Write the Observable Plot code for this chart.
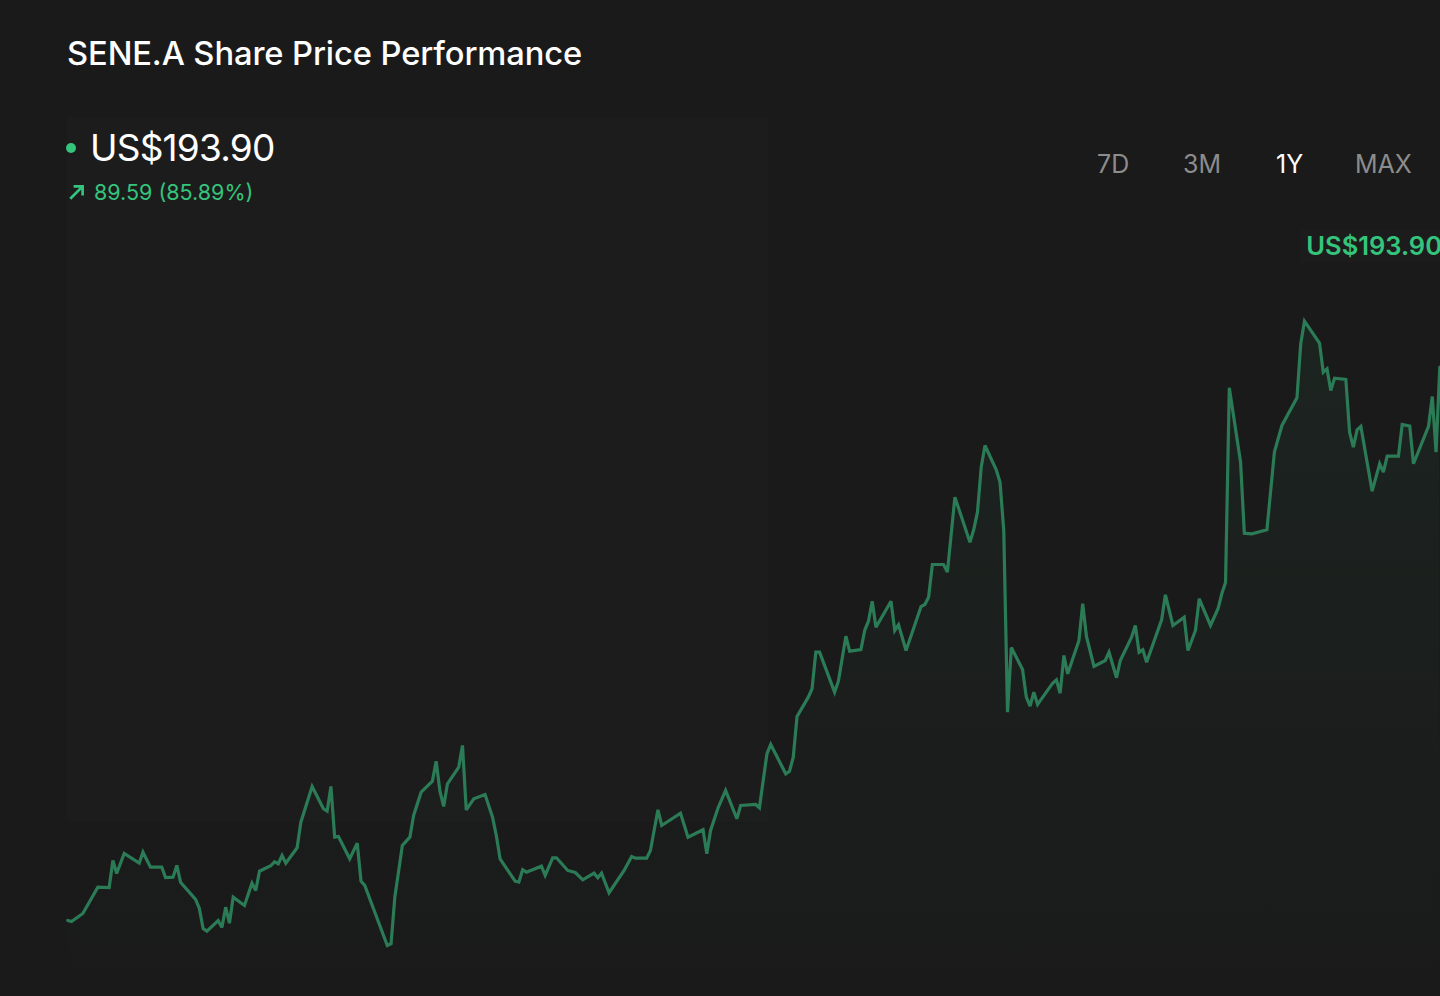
<!DOCTYPE html>
<html>
<head>
<meta charset="utf-8">
<script src="https://cdn.jsdelivr.net/npm/d3@7"></script>
<script src="https://cdn.jsdelivr.net/npm/@observablehq/plot@0.6"></script>
<style>
  html, body { margin: 0; padding: 0; background: #1a1a1a; }
  body { width: 1440px; height: 996px; position: relative; overflow: hidden; font-family: Inter, "Noto Sans", sans-serif; }
  #panel { position: absolute; left: 67px; top: 117px; width: 701px; height: 705px; background: #1c1c1c; }
  #title { position: absolute; left: 67px; top: 33px; font-size: 32.7px; font-weight: 500; color: #ffffff; letter-spacing: -0.1px; white-space: nowrap; }
  #price { position: absolute; left: 66px; top: 125px; color: #ffffff; font-size: 37px; font-weight: 400; letter-spacing: -0.8px; white-space: nowrap; display: flex; align-items: center; }
  #price .dot { width: 10px; height: 10px; border-radius: 50%; background: #35c47c; margin-right: 14px; }
  #change { position: absolute; left: 68px; top: 179px; color: #35c47c; font-size: 21.5px; white-space: nowrap; display: flex; align-items: center; }
  #change svg { margin-right: 8px; }
  #tabs { position: absolute; top: 149px; left: 0; width: 1440px; height: 34px; }
  #tabs span { position: absolute; font-size: 25px; color: #8c8c8c; white-space: nowrap; }
  #tabs span.active { color: #ffffff; }
  #chart { position: absolute; left: 0; top: 220px; }
  #lastlabel { position: absolute; right: -2px; top: 229px; padding: 0 0 0 6px; background: #1c1c1c; color: #35c47c; font-size: 25.5px; font-weight: 600; white-space: nowrap; line-height: 34px; }
</style>
</head>
<body>
<div id="panel"></div>
<div id="title"></div>
<div id="price"><span class="dot"></span><span id="priceText"></span></div>
<div id="change"><svg width="18" height="18" viewBox="0 0 16 16"><path d="M2 14 L13 3 M5 3 H13 V11" fill="none" stroke="#35c47c" stroke-width="2.4"/></svg><span id="changeText"></span></div>
<div id="tabs"></div>
<div id="chart"></div>
<div id="lastlabel"></div>
<script>
// ---- data ----
const ticker = "SENE.A";
const lastPrice = 193.90;
const priceChange = 89.59;
const priceChangePct = 85.89;
const ranges = ["7D", "3M", "1Y", "MAX"];
const activeRange = "1Y";

// day offset within the 1-year window
const days = [0,1,4,8,11,12,13,15,19,20,22,25,26,28,29,30,34,35,36,37,40,41,42,43,44,47,49,50,51,54,55,56,57,58,61,62,65,68,69,70,71,72,75,77,78,79,82,85,86,87,89,91,92,94,97,98,99,100,101,104,105,106,108,111,113,114,115,119,120,121,122,126,127,129,130,133,135,137,140,141,142,144,148,150,151,154,155,157,158,163,165,169,170,171,173,175,178,179,183,184,185,186,187,191,192,193,194,197,198,199,200,204,205,207,208,211,212,213,214,215,219,220,221,223,227,228,229,230,233,234,236,240,241,242,243,244,247,248,249,250,251,254,255,256,257,258,262,263,264,265,266,269,270,271,273,276,277,279,280,283,284,285,286,287,291,292,294,297,298,300,301,304,306,307,308,309,312,313,315,319,321,323,327,328,329,333,334,335,336,337,340,341,342,343,344,347,349,350,351,354,355,357,358,362,363,364,365];
// share price, US$
const prices = [104.31,104.15,105.44,109.70,109.65,114.02,111.92,115.16,113.59,115.37,112.94,112.94,111.27,111.32,113.22,110.51,107.71,106.25,103.01,102.58,104.31,103.18,106.46,103.87,108.08,106.74,110.35,109.17,112.29,113.17,113.81,113.49,114.83,113.59,116.08,120.23,126.01,122.40,122.01,126.01,117.80,117.91,114.30,116.83,110.67,109.98,105.12,100.26,100.54,108.08,116.45,117.80,121.31,125.08,126.87,130.10,125.25,122.77,126.44,129.13,132.65,122.23,124.02,124.71,121.04,118.07,114.30,110.67,110.51,112.52,112.13,113.10,111.60,114.46,114.46,112.41,112.08,110.90,111.97,111.22,111.97,108.80,112.41,114.67,114.40,114.40,115.64,122.23,119.69,121.68,117.80,119.00,115.11,118.88,122.56,125.36,120.78,122.93,123.09,122.56,126.98,131.30,132.81,128.06,128.48,130.75,137.34,140.47,141.83,147.75,147.75,141.28,143.06,150.34,147.91,148.19,151.27,152.77,156.01,151.80,156.01,151.27,152.19,148.03,155.15,155.48,156.66,161.95,161.95,160.71,172.85,165.56,167.57,170.42,177.71,181.22,177.29,175.28,167.46,138.04,148.51,144.95,140.47,139.01,141.28,139.28,142.73,143.28,141.11,147.22,144.25,149.65,155.59,150.29,145.44,146.41,147.75,143.61,146.41,150.18,152.08,147.75,148.14,146.13,153.00,157.05,152.08,153.42,148.03,151.27,156.40,152.08,154.78,157.21,159.04,190.56,178.52,167.02,166.92,167.57,180.14,184.46,188.94,197.69,201.35,197.79,193.09,193.64,190.13,192.12,191.91,183.37,180.95,183.76,184.30,173.82,178.26,176.90,179.49,179.49,184.62,184.35,178.26,184.30,189.15,180.14,193.90];

// ---- header text ----
const fmt = v => "US$" + v.toFixed(2);
document.getElementById("title").textContent = ticker + " Share Price Performance";
document.getElementById("priceText").textContent = fmt(lastPrice);
document.getElementById("changeText").textContent = priceChange.toFixed(2) + " (" + priceChangePct.toFixed(2) + "%)";
document.getElementById("lastlabel").textContent = fmt(lastPrice);

const tabX = [1097, 1183, 1276, 1355];
const tabs = document.getElementById("tabs");
ranges.forEach((r, i) => {
  const s = document.createElement("span");
  s.textContent = r;
  s.style.left = tabX[i] + "px";
  if (r === activeRange) s.className = "active";
  tabs.appendChild(s);
});

// ---- chart ----
const data = days.map((d, i) => ({day: d, price: prices[i]}));
const yMin = 92.0, yMax = 217.65;
const H = 776;

const chart = Plot.plot({
  width: 1440,
  height: H,
  marginLeft: 67.3,
  marginRight: 0.7,
  marginTop: 0,
  marginBottom: 0,
  style: {background: "transparent", overflow: "visible"},
  x: {domain: [0, 365], axis: null},
  y: {domain: [yMin, yMax], axis: null},
  marks: [
    Plot.areaY(data, {x: "day", y1: yMin, y2: "price", fill: "url(#areaGrad)"}),
    Plot.lineY(data, {x: "day", y: "price", stroke: "#2b7b57", strokeWidth: 3.2, strokeLinejoin: "miter", strokeMiterlimit: 3})
  ]
});
chart.insertAdjacentHTML("afterbegin",
  `<defs><linearGradient id="areaGrad" gradientUnits="userSpaceOnUse" x1="0" y1="0" x2="0" y2="${H}">
     <stop offset="0" stop-color="#2b7b57" stop-opacity="0.12"/>
     <stop offset="0.55" stop-color="#2b7b57" stop-opacity="0.05"/>
     <stop offset="1" stop-color="#2b7b57" stop-opacity="0"/>
   </linearGradient></defs>`);
document.getElementById("chart").appendChild(chart);
</script>
</body>
</html>
